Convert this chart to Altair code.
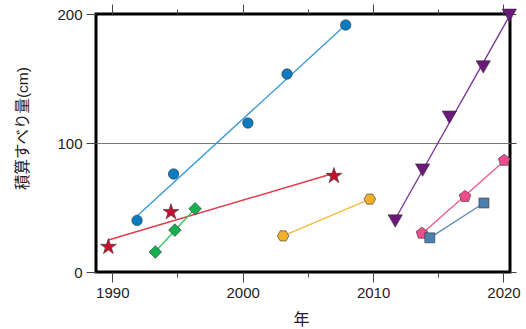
import altair as alt
import pandas as pd

# Observation years and cumulative slip (cm) for each benchmark series
circle_year = [1991.9, 1994.7, 2000.4, 2003.4, 2007.9]
circle_slip = [40, 76, 115.5, 153.5, 191.5]

star_year = [1989.7, 1994.5, 2007.0]
star_slip = [19.5, 46.5, 74.5]

diamond_year = [1993.3, 1994.8, 1996.35]
diamond_slip = [15.5, 32.5, 49]

hexagon_year = [2003.1, 2009.75]
hexagon_slip = [28, 56.5]

triangle_year = [2011.7, 2013.8, 2015.85, 2018.45, 2020.45]
triangle_slip = [39.5, 79, 120, 159, 199]

pentagon_year = [2013.75, 2017.05, 2020.05]
pentagon_slip = [30, 58.5, 86.5]

square_year = [2014.35, 2018.5]
square_slip = [26.5, 53.5]

STAR = ("M0,-1L0.2245,-0.309L0.951,-0.309L0.363,0.118L0.588,0.809L0,0.382"
        "L-0.588,0.809L-0.363,0.118L-0.951,-0.309L-0.2245,-0.309Z")
HEXAGON = "M-1,0L-0.5,-0.866L0.5,-0.866L1,0L0.5,0.866L-0.5,0.866Z"
PENTAGON = "M0,-1L0.951,-0.309L0.588,0.809L-0.588,0.809L-0.951,-0.309Z"

# name, years, slip, marker fill, line colour, marker shape, marker size
series = [
    ("circle", circle_year, circle_slip, "#0a7bc0", "#3a9ad9", "circle", 110),
    ("star", star_year, star_slip, "#c8102e", "#e23a4a", STAR, 280),
    ("diamond", diamond_year, diamond_slip, "#12b050", "#3cc860", "diamond", 160),
    ("hexagon", hexagon_year, hexagon_slip, "#f2b02a", "#f5b940", HEXAGON, 137),
    ("triangle", triangle_year, triangle_slip, "#6b1a7b", "#7e3a96", "triangle-down", 205),
    ("pentagon", pentagon_year, pentagon_slip, "#ee4c8c", "#f25c94", PENTAGON, 150),
    ("square", square_year, square_slip, "#4c7fae", "#5e8cb8", "square", 100),
]

LATIN = "Liberation Sans"
JP = "Liberation Sans, Noto Sans CJK JP"

x_scale = alt.Scale(domain=[1988.75, 2020.5], nice=False, zero=False)
y_scale = alt.Scale(domain=[0, 200], nice=False)

x_ticks = [1990, 1995, 2000, 2005, 2010, 2015, 2020]
tick_cond = {"condition": {"test": "datum.value % 10 === 0", "value": 10}, "value": 5}

x_bottom = alt.Axis(
    values=x_ticks, format="d",
    labelExpr="datum.value % 10 === 0 ? datum.label : ''",
    tickSize=tick_cond, tickColor="#444", domain=False, grid=False,
    labelFont=LATIN, labelFontSize=15, labelColor="#222", labelPadding=3,
    title="年", titleFont=JP, titleFontSize=16, titleFontWeight="normal",
    titleColor="#222", titleX=205, titleY=47, titleAlign="center",
    titleBaseline="middle",
)
y_left = alt.Axis(
    values=[0, 100, 200], tickSize=10, tickColor="#444", domain=False,
    grid=True, gridColor="#777", gridWidth=1,
    gridOpacity={"condition": {"test": "datum.value === 100", "value": 1}, "value": 0},
    labelFont=LATIN, labelFontSize=15, labelColor="#222", labelPadding=4,
    title="積算すべり量(cm)", titleFont=JP, titleFontSize=15.5,
    titleFontWeight="normal", titleColor="#222", titleAngle=-90,
    titleX=-74, titleY=114, titleAlign="center", titleBaseline="middle",
)
x_top = alt.Axis(
    orient="top", values=x_ticks, labels=False, tickSize=tick_cond,
    tickColor="#444", domain=False, grid=False, title=None,
)
y_right = alt.Axis(
    orient="right", values=[0, 100, 200], labels=False, tickSize=6,
    tickColor="#444", domain=False, grid=False, title=None,
)

line_layers = []
point_layers = []
for name, yr, sl, fill, stroke, shape, size in series:
    df = pd.DataFrame({"year": yr, "slip": sl})
    base = alt.Chart(df)
    # least-squares trend over the observed span
    line_layers.append(
        base.transform_regression("year", "slip")
        .mark_line(color=stroke, strokeWidth=1.4)
        .encode(
            x=alt.X("year:Q", scale=x_scale, axis=x_top),
            y=alt.Y("slip:Q", scale=y_scale, axis=y_right),
        )
    )
    point_layers.append(
        base.mark_point(
            filled=True, opacity=1, fill=fill, shape=shape, size=size,
            stroke="#333", strokeWidth=0.7, strokeOpacity=0.85,
        ).encode(
            x=alt.X("year:Q", scale=x_scale, axis=x_bottom),
            y=alt.Y("slip:Q", scale=y_scale, axis=y_left),
        )
    )

chart = alt.layer(
    alt.layer(*line_layers), alt.layer(*point_layers)
).resolve_axis(
    x="independent", y="independent"
).properties(
    width=414, height=258,
    autosize=alt.AutoSizeParams(type="none"),
    padding={"left": 96, "top": 14, "right": 16, "bottom": 57},
    background="white",
).configure_view(
    stroke="black", strokeWidth=3
)

chart.save("out.html", embed_options={"renderer": "svg", "actions": False})
